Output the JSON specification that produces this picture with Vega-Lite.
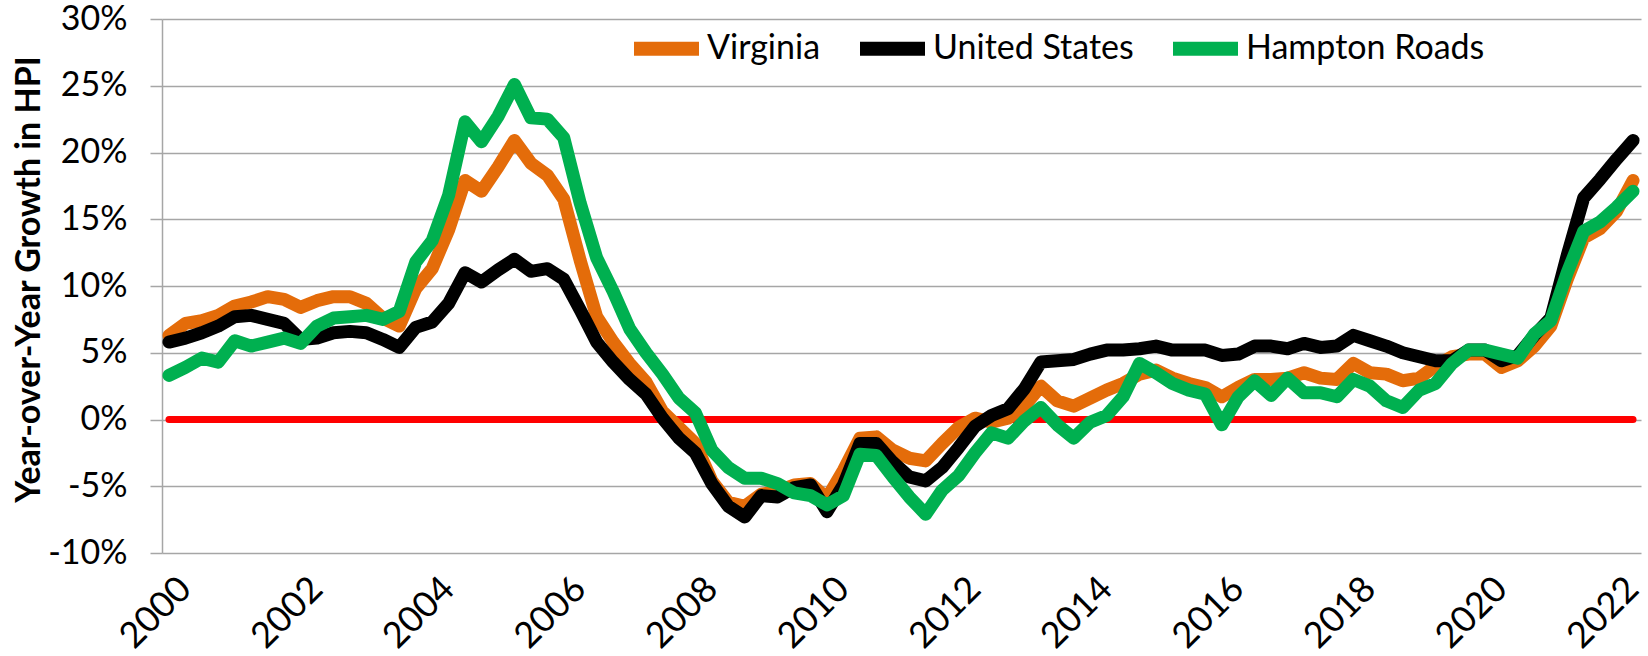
{
"$schema": "https://vega.github.io/schema/vega-lite/v6.json",
"width": 1479, "height": 534,
"autosize": {"type": "none"},
"padding": {"left": 162, "top": 19, "right": 7, "bottom": 103},
"background": "white",
"config": {"font": "Lato", "view": {"stroke": null}},
"data": {"values": [
{"t":2000,"Virginia":6.3,"United States":5.8,"Hampton Roads":3.3},
{"t":2000.25,"Virginia":7.2,"United States":6.1,"Hampton Roads":3.9},
{"t":2000.5,"Virginia":7.4,"United States":6.5,"Hampton Roads":4.6},
{"t":2000.75,"Virginia":7.8,"United States":7.0,"Hampton Roads":4.3},
{"t":2001,"Virginia":8.5,"United States":7.7,"Hampton Roads":5.9},
{"t":2001.25,"Virginia":8.8,"United States":7.8,"Hampton Roads":5.5},
{"t":2001.5,"Virginia":9.2,"United States":7.5,"Hampton Roads":5.8},
{"t":2001.75,"Virginia":9.0,"United States":7.2,"Hampton Roads":6.1},
{"t":2002,"Virginia":8.4,"United States":6.0,"Hampton Roads":5.7},
{"t":2002.25,"Virginia":8.9,"United States":6.1,"Hampton Roads":7.0},
{"t":2002.5,"Virginia":9.2,"United States":6.5,"Hampton Roads":7.6},
{"t":2002.75,"Virginia":9.2,"United States":6.6,"Hampton Roads":7.7},
{"t":2003,"Virginia":8.7,"United States":6.5,"Hampton Roads":7.8},
{"t":2003.25,"Virginia":7.6,"United States":6.0,"Hampton Roads":7.5},
{"t":2003.5,"Virginia":7.0,"United States":5.4,"Hampton Roads":8.1},
{"t":2003.75,"Virginia":9.8,"United States":6.9,"Hampton Roads":11.8},
{"t":2004,"Virginia":11.3,"United States":7.3,"Hampton Roads":13.4},
{"t":2004.25,"Virginia":14.2,"United States":8.7,"Hampton Roads":16.8},
{"t":2004.5,"Virginia":17.9,"United States":11.0,"Hampton Roads":22.3},
{"t":2004.75,"Virginia":17.1,"United States":10.3,"Hampton Roads":20.8},
{"t":2005,"Virginia":18.9,"United States":11.2,"Hampton Roads":22.7},
{"t":2005.25,"Virginia":20.9,"United States":12.0,"Hampton Roads":25.1},
{"t":2005.5,"Virginia":19.2,"United States":11.1,"Hampton Roads":22.6},
{"t":2005.75,"Virginia":18.3,"United States":11.3,"Hampton Roads":22.5},
{"t":2006,"Virginia":16.5,"United States":10.5,"Hampton Roads":21.1},
{"t":2006.25,"Virginia":11.9,"United States":8.2,"Hampton Roads":16.2},
{"t":2006.5,"Virginia":7.7,"United States":5.8,"Hampton Roads":12.1},
{"t":2006.75,"Virginia":5.8,"United States":4.3,"Hampton Roads":9.6},
{"t":2007,"Virginia":4.2,"United States":3.0,"Hampton Roads":6.8},
{"t":2007.25,"Virginia":2.8,"United States":1.9,"Hampton Roads":5.0},
{"t":2007.5,"Virginia":0.6,"United States":0.1,"Hampton Roads":3.4},
{"t":2007.75,"Virginia":-0.6,"United States":-1.4,"Hampton Roads":1.6},
{"t":2008,"Virginia":-1.8,"United States":-2.5,"Hampton Roads":0.5},
{"t":2008.25,"Virginia":-4.6,"United States":-4.8,"Hampton Roads":-2.3},
{"t":2008.5,"Virginia":-6.2,"United States":-6.5,"Hampton Roads":-3.6},
{"t":2008.75,"Virginia":-6.5,"United States":-7.3,"Hampton Roads":-4.4},
{"t":2009,"Virginia":-5.6,"United States":-5.7,"Hampton Roads":-4.4},
{"t":2009.25,"Virginia":-5.4,"United States":-5.8,"Hampton Roads":-4.8},
{"t":2009.5,"Virginia":-4.9,"United States":-5.1,"Hampton Roads":-5.5},
{"t":2009.75,"Virginia":-4.8,"United States":-4.9,"Hampton Roads":-5.7},
{"t":2010,"Virginia":-5.9,"United States":-6.9,"Hampton Roads":-6.4},
{"t":2010.25,"Virginia":-3.8,"United States":-4.9,"Hampton Roads":-5.7},
{"t":2010.5,"Virginia":-1.4,"United States":-1.8,"Hampton Roads":-2.6},
{"t":2010.75,"Virginia":-1.3,"United States":-1.8,"Hampton Roads":-2.7},
{"t":2011,"Virginia":-2.3,"United States":-3.2,"Hampton Roads":-4.3},
{"t":2011.25,"Virginia":-2.9,"United States":-4.3,"Hampton Roads":-5.8},
{"t":2011.5,"Virginia":-3.1,"United States":-4.6,"Hampton Roads":-7.1},
{"t":2011.75,"Virginia":-1.8,"United States":-3.6,"Hampton Roads":-5.3},
{"t":2012,"Virginia":-0.6,"United States":-2.1,"Hampton Roads":-4.2},
{"t":2012.25,"Virginia":0.1,"United States":-0.5,"Hampton Roads":-2.5},
{"t":2012.5,"Virginia":-0.2,"United States":0.3,"Hampton Roads":-1.0},
{"t":2012.75,"Virginia":0.1,"United States":0.8,"Hampton Roads":-1.4},
{"t":2013,"Virginia":1.0,"United States":2.3,"Hampton Roads":-0.1},
{"t":2013.25,"Virginia":2.5,"United States":4.3,"Hampton Roads":0.9},
{"t":2013.5,"Virginia":1.4,"United States":4.4,"Hampton Roads":-0.4},
{"t":2013.75,"Virginia":1.0,"United States":4.5,"Hampton Roads":-1.4},
{"t":2014,"Virginia":1.6,"United States":4.9,"Hampton Roads":-0.2},
{"t":2014.25,"Virginia":2.2,"United States":5.2,"Hampton Roads":0.3},
{"t":2014.5,"Virginia":2.7,"United States":5.2,"Hampton Roads":1.7},
{"t":2014.75,"Virginia":3.4,"United States":5.3,"Hampton Roads":4.2},
{"t":2015,"Virginia":3.7,"United States":5.5,"Hampton Roads":3.5},
{"t":2015.25,"Virginia":3.1,"United States":5.2,"Hampton Roads":2.7},
{"t":2015.5,"Virginia":2.7,"United States":5.2,"Hampton Roads":2.2},
{"t":2015.75,"Virginia":2.4,"United States":5.2,"Hampton Roads":1.9},
{"t":2016,"Virginia":1.7,"United States":4.8,"Hampton Roads":-0.4},
{"t":2016.25,"Virginia":2.4,"United States":4.9,"Hampton Roads":1.7},
{"t":2016.5,"Virginia":3.0,"United States":5.5,"Hampton Roads":2.9},
{"t":2016.75,"Virginia":3.0,"United States":5.5,"Hampton Roads":1.8},
{"t":2017,"Virginia":3.1,"United States":5.3,"Hampton Roads":3.1},
{"t":2017.25,"Virginia":3.5,"United States":5.7,"Hampton Roads":2.0},
{"t":2017.5,"Virginia":3.1,"United States":5.4,"Hampton Roads":2.0},
{"t":2017.75,"Virginia":3.0,"United States":5.5,"Hampton Roads":1.7},
{"t":2018,"Virginia":4.2,"United States":6.3,"Hampton Roads":3.0},
{"t":2018.25,"Virginia":3.5,"United States":5.9,"Hampton Roads":2.5},
{"t":2018.5,"Virginia":3.4,"United States":5.5,"Hampton Roads":1.4},
{"t":2018.75,"Virginia":2.9,"United States":5.0,"Hampton Roads":0.9},
{"t":2019,"Virginia":3.1,"United States":4.7,"Hampton Roads":2.2},
{"t":2019.25,"Virginia":4.0,"United States":4.4,"Hampton Roads":2.7},
{"t":2019.5,"Virginia":4.7,"United States":4.4,"Hampton Roads":4.2},
{"t":2019.75,"Virginia":4.9,"United States":5.2,"Hampton Roads":5.2},
{"t":2020,"Virginia":4.9,"United States":5.2,"Hampton Roads":5.2},
{"t":2020.25,"Virginia":3.9,"United States":4.4,"Hampton Roads":4.9},
{"t":2020.5,"Virginia":4.4,"United States":4.8,"Hampton Roads":4.6},
{"t":2020.75,"Virginia":5.5,"United States":6.3,"Hampton Roads":6.4},
{"t":2021,"Virginia":7.0,"United States":7.6,"Hampton Roads":7.4},
{"t":2021.25,"Virginia":10.5,"United States":12.3,"Hampton Roads":11.0},
{"t":2021.5,"Virginia":13.6,"United States":16.6,"Hampton Roads":14.1},
{"t":2021.75,"Virginia":14.3,"United States":18.0,"Hampton Roads":14.8},
{"t":2022,"Virginia":15.6,"United States":19.5,"Hampton Roads":15.9},
{"t":2022.25,"Virginia":17.9,"United States":20.9,"Hampton Roads":17.1}
]},
"encoding": {
  "x": {"field": "t", "type": "quantitative",
    "scale": {"domain": [1999.894, 2022.371], "nice": false, "zero": false},
    "axis": {"values": [2000,2002,2004,2006,2008,2010,2012,2014,2016,2018,2020,2022], "format": "d",
      "labelAngle": -45, "labelAlign": "right", "labelBaseline": "top", "labelFontSize": 36, "labelColor": "black",
      "labelFont": "Lato", "domain": false, "ticks": false, "grid": false, "labelPadding": 18, "labelOffset": 4, "title": null}},
  "y": {"field": "v", "type": "quantitative",
    "scale": {"domain": [-10, 30], "nice": false},
    "axis": {"values": [-10,-5,0,5,10,15,20,25,30], "labelExpr": "datum.value + '%'",
      "labelFontSize": 34, "labelColor": "black", "labelFont": "Lato", "labelPadding": 23,
      "tickSize": 12, "tickColor": "#a6a6a6", "tickWidth": 1.5,
      "domainColor": "#a6a6a6", "domainWidth": 1.5,
      "grid": true, "gridColor": "#a6a6a6", "gridWidth": 1.5,
      "title": "Year-over-Year Growth in HPI", "titleFontSize": 34, "titleFontWeight": "bold", "titleColor": "black",
      "titleFont": "Lato", "titleX": -123, "titleY": 260, "titleBaseline": "alphabetic", "titleAngle": -90, "titleAlign": "center"}}
},
"layer": [
  {"data": {"values": [{"t": 2000, "t2": 2022.25, "v": 0}]},
   "mark": {"type": "rule", "color": "#FF0000", "strokeWidth": 7, "strokeCap": "round"},
   "encoding": {"x2": {"field": "t2"}}},
  {"transform": [{"fold": ["Virginia", "United States", "Hampton Roads"], "as": ["series", "v"]}, {"filter": "datum.series === 'Virginia'"}],
   "mark": {"type": "line", "strokeWidth": 13, "strokeJoin": "round", "strokeCap": "round"},
   "encoding": {"color": {"field": "series", "type": "nominal",
     "scale": {"domain": ["Virginia", "United States", "Hampton Roads"], "range": ["#E46C0A", "#000000", "#00B050"]},
     "legend": {"title": null, "orient": "none", "legendX": 465, "legendY": -10, "direction": "horizontal",
       "symbolType": "stroke", "symbolStrokeWidth": 14, "symbolSize": 4225, "labelFontSize": 34, "labelColor": "black",
       "labelFont": "Lato", "labelOffset": 1, "labelLimit": 0, "columnPadding": 11, "padding": 0}}}},
  {"transform": [{"fold": ["Virginia", "United States", "Hampton Roads"], "as": ["series", "v"]}, {"filter": "datum.series === 'United States'"}],
   "mark": {"type": "line", "strokeWidth": 13, "strokeJoin": "round", "strokeCap": "round"},
   "encoding": {"color": {"field": "series", "type": "nominal"}}},
  {"transform": [{"fold": ["Virginia", "United States", "Hampton Roads"], "as": ["series", "v"]}, {"filter": "datum.series === 'Hampton Roads'"}],
   "mark": {"type": "line", "strokeWidth": 13, "strokeJoin": "round", "strokeCap": "round"},
   "encoding": {"color": {"field": "series", "type": "nominal"}}}
]
}
